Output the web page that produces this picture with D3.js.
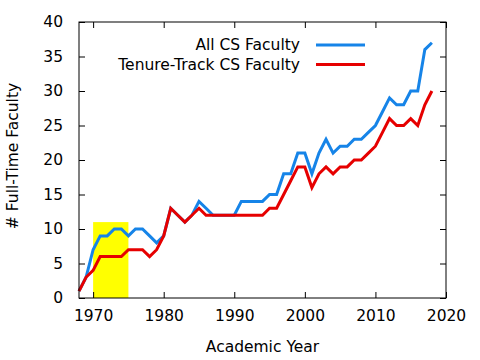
<!DOCTYPE html>
<html>
<head>
<meta charset="utf-8">
<script src="https://cdn.jsdelivr.net/npm/d3@7"></script>
<style>
  body { margin: 0; background: #fff; }
  text { font-family: "DejaVu Sans", sans-serif; font-size: 15.5px; fill: #000; }
  .axis path, .axis line { stroke: #000; stroke-width: 1; }
</style>
</head>
<body>
<script>
var years = d3.range(1968, 2019);
var allFaculty = [1, 3, 7, 9, 9, 10, 10, 9, 10, 10, 9, 8, 9, 13, 12, 11, 12, 14, 13, 12,
  12, 12, 12, 14, 14, 14, 14, 15, 15, 18, 18, 21, 21, 18, 21, 23, 21, 22, 22, 23,
  23, 24, 25, 27, 29, 28, 28, 30, 30, 36, 37];
var tenureTrack = [1, 3, 4, 6, 6, 6, 6, 7, 7, 7, 6, 7, 9, 13, 12, 11, 12, 13, 12, 12,
  12, 12, 12, 12, 12, 12, 12, 13, 13, 15, 17, 19, 19, 16, 18, 19, 18, 19, 19, 20,
  20, 21, 22, 24, 26, 25, 25, 26, 25, 28, 30];
var xTicks = [1970, 1980, 1990, 2000, 2010, 2020];
var yTicks = [0, 5, 10, 15, 20, 25, 30, 35, 40];
var highlight = {from: 1970, to: 1975, top: 11};

var seriesNames = ["All CS Faculty", "Tenure-Track CS Faculty"];
var seriesColors = ["#1684e8", "#e60000"];

var width = 480, height = 360;
var margin = {left: 79, right: 34, top: 22, bottom: 62};
var w = width - margin.left - margin.right;
var h = height - margin.top - margin.bottom;

var svg = d3.select("body").append("svg").attr("width", width).attr("height", height);
var g = svg.append("g").attr("transform", "translate(" + margin.left + "," + margin.top + ")");

var x = d3.scaleLinear().domain([1968, 2020]).range([0, w]);
var y = d3.scaleLinear().domain([0, 40]).range([h, 0]);

// yellow highlight box
g.append("rect")
  .attr("x", x(highlight.from))
  .attr("y", y(highlight.top))
  .attr("width", x(highlight.to) - x(highlight.from))
  .attr("height", y(0) - y(highlight.top))
  .attr("fill", "#ffff00");

var series = [allFaculty, tenureTrack];
var line = d3.line()
  .x(function(d, i){ return x(years[i]); })
  .y(function(d){ return y(d); });

series.forEach(function(s, k){
  g.append("path")
    .attr("d", line(s))
    .attr("fill", "none")
    .attr("stroke", seriesColors[k])
    .attr("stroke-width", 3)
    .attr("stroke-linejoin", "miter");
});

// axes, ticks inward on all four sides
var fmt = d3.format("d");
g.append("g").attr("class", "axis").attr("transform", "translate(0," + h + ")")
  .call(d3.axisBottom(x).tickValues(xTicks).tickFormat(fmt).tickSize(-6).tickPadding(12));
g.append("g").attr("class", "axis")
  .call(d3.axisTop(x).tickValues(xTicks).tickFormat("").tickSize(-6));
g.append("g").attr("class", "axis")
  .call(d3.axisLeft(y).tickValues(yTicks).tickSize(-6).tickPadding(16));
g.append("g").attr("class", "axis").attr("transform", "translate(" + w + ",0)")
  .call(d3.axisRight(y).tickValues(yTicks).tickFormat("").tickSize(-6));
g.selectAll(".axis text").style("font-size", "15.5px").style("font-family", "DejaVu Sans");
g.selectAll(".axis .domain").remove();
g.append("rect").attr("width", w).attr("height", h).attr("fill", "none").attr("stroke", "#000");

// legend
var legend = g.append("g");
seriesNames.forEach(function(name, k){
  var ly = 23 + k * 19.5;
  legend.append("text").attr("x", 221).attr("y", ly).attr("dy", "0.35em")
    .attr("text-anchor", "end").text(name);
  legend.append("line").attr("x1", 237).attr("x2", 286).attr("y1", ly).attr("y2", ly)
    .attr("stroke", seriesColors[k]).attr("stroke-width", 3);
});

// axis titles
svg.append("text").attr("x", margin.left + w / 2).attr("y", 352)
  .attr("text-anchor", "middle").text("Academic Year");
svg.append("text").attr("transform", "translate(18,156) rotate(-90)")
  .attr("text-anchor", "middle").text("# Full-Time Faculty");
</script>
</body>
</html>
